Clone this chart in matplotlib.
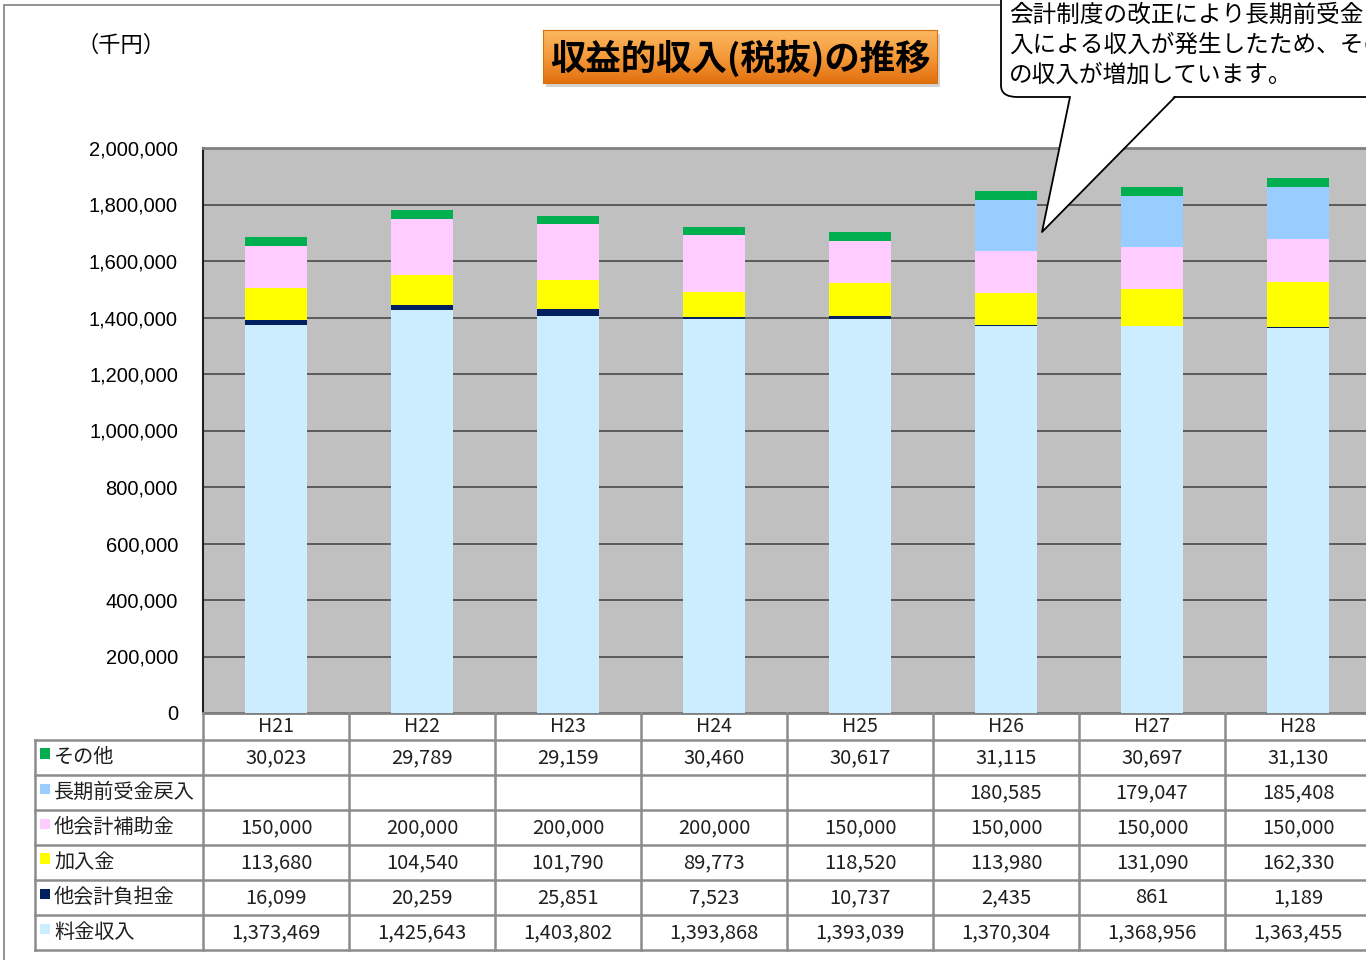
import numpy as np
import matplotlib
matplotlib.use("Agg")
import matplotlib.pyplot as plt
from matplotlib.patches import Rectangle, FancyBboxPatch, Polygon
from matplotlib.lines import Line2D
from matplotlib.colors import LinearSegmentedColormap

plt.rcParams['font.family'] = ['Noto Sans CJK JP', 'DejaVu Sans']

years = ['H21', 'H22', 'H23', 'H24', 'H25', 'H26', 'H27', 'H28']
# stack order bottom -> top
ryokin = [1373469, 1425643, 1403802, 1393868, 1393039, 1370304, 1368956, 1363455]
futan = [16099, 20259, 25851, 7523, 10737, 2435, 861, 1189]
kanyu = [113680, 104540, 101790, 89773, 118520, 113980, 131090, 162330]
hojo = [150000, 200000, 200000, 200000, 150000, 150000, 150000, 150000]
choki = [None, None, None, None, None, 180585, 179047, 185408]
sonota = [30023, 29789, 29159, 30460, 30617, 31115, 30697, 31130]

series_names = ['料金収入', '他会計負担金', '加入金', '他会計補助金', '長期前受金戻入', 'その他']
series_vals = [ryokin, futan, kanyu, hojo, choki, sonota]
colors = ['#CCECFF', '#002060', '#FFFF00', '#FFCCFF', '#99CCFF', '#00B050']

yticks = np.arange(0, 2000001, 200000)

W, H = 1366, 960
fig = plt.figure(figsize=(W / 100, H / 100), dpi=100)


def fx(x):
    return x / W


def fy(y):
    return 1 - y / H


# outer chart frame
fig.patches.append(Rectangle((fx(4), fy(1000)), fx(1400), fy(5) - fy(1000), transform=fig.transFigure,
                             fill=False, edgecolor='#808080', lw=1.2))

# plot area
left, top, bottom = 203, 148, 713
colw = 146
right = left + colw * len(years)
ax = fig.add_axes([fx(left), fy(bottom), fx(right - left), fy(top) - fy(bottom)])
ax.set_facecolor('#C0C0C0')
x = np.arange(len(years))
base = np.zeros(len(years))
for name, vals, c in zip(series_names, series_vals, colors):
    v = np.array([0 if a is None else a for a in vals], dtype=float)
    ax.bar(x, v, 0.42, bottom=base, color=c, zorder=3, label=name)
    base += v
ax.set_xlim(-0.5, len(years) - 0.5)
ax.set_ylim(0, 2000000)
ax.set_yticks(yticks)
ax.set_yticklabels([f'{t:,}' for t in yticks], family=['Liberation Sans', 'DejaVu Sans'], fontsize=14.5)
ax.tick_params(axis='y', length=0, pad=18)
ax.set_xticks([])
ax.grid(axis='y', color='#404040', lw=1.1, zorder=1)
for s in ['right', 'top']:
    ax.spines[s].set_color('#808080')
ax.spines['top'].set_linewidth(2)
ax.spines['left'].set_color('#202020')
ax.spines['left'].set_linewidth(1.5)
ax.spines['bottom'].set_color('#808080')
ax.spines['bottom'].set_linewidth(2)

# data table
lc = '#8C8C8C'
row_h = 35
hdr_bot = 740
tbl_left = 35
rows = list(zip(series_names, series_vals, colors))[::-1]  # その他 first
table_bot = hdr_bot + row_h * len(rows)


def hline(y, x0, x1):
    fig.add_artist(Line2D([fx(x0), fx(x1)], [fy(y), fy(y)], color=lc, lw=1.8))


def vline(xp, y0, y1):
    fig.add_artist(Line2D([fx(xp), fx(xp)], [fy(y0), fy(y1)], color=lc, lw=1.8))


for i in range(len(years) + 1):
    vline(left + i * colw, bottom, table_bot)
vline(tbl_left, hdr_bot, table_bot)
hline(hdr_bot, tbl_left, right)
for r in range(1, len(rows) + 1):
    hline(hdr_bot + r * row_h, tbl_left, right)

for i, yr in enumerate(years):
    fig.text(fx(left + colw * (i + 0.5)), fy(727), yr, ha='center', va='center', fontsize=14, color='#202020')

for r, (name, vals, c) in enumerate(rows):
    yc = hdr_bot + row_h * (r + 0.5)
    fig.patches.append(Rectangle((fx(40), fy(yc + 1)), fx(10), fy(yc - 9) - fy(yc + 1),
                                 transform=fig.transFigure, facecolor=c, edgecolor='none'))
    fig.text(fx(54), fy(yc), name, ha='left', va='center', fontsize=14.5, color='#202020')
    for i, v in enumerate(vals):
        if v is None:
            continue
        fig.text(fx(left + colw * (i + 0.5)), fy(yc), f'{v:,}', ha='center', va='center',
                 fontsize=14.5, color='#202020')

# unit label
fig.text(fx(121), fy(45), '（千円）', ha='center', va='center', fontsize=16)

# title box with gradient
tx0, tx1, ty0, ty1 = 543, 937, 30, 83
shadow = Rectangle((fx(tx0 + 3), fy(ty1 + 4)), fx(tx1 - tx0), fy(ty0) - fy(ty1),
                   transform=fig.transFigure, facecolor='#B8B8B8', edgecolor='none', alpha=0.6, zorder=0)
fig.patches.append(shadow)
tax = fig.add_axes([fx(tx0), fy(ty1), fx(tx1 - tx0), fy(ty0) - fy(ty1)])
tax.set_zorder(10)
grad = np.linspace(0, 1, 100).reshape(-1, 1)
cmap = LinearSegmentedColormap.from_list('org', ['#FBB860', '#F59A3A', '#E2700F'])
tax.imshow(grad, aspect='auto', cmap=cmap, extent=[0, 1, 0, 1], origin='upper')
tax.set_xticks([])
tax.set_yticks([])
for s in tax.spines.values():
    s.set_color('#D9700F')
tax.text(0.5, 0.47, '収益的収入(税抜)の推移', ha='center', va='center', fontsize=25.5,
         fontweight='bold', color='black', transform=tax.transAxes)

# callout
bx0, by0, bx1, by1 = 1001, -10, 1420, 97
fig.patches.append(FancyBboxPatch((fx(bx0), fy(by1)), fx(bx1 - bx0), fy(by0) - fy(by1),
                                  boxstyle='round,pad=0,rounding_size=0.012', transform=fig.transFigure,
                                  facecolor='white', edgecolor='black', lw=1.3, zorder=5))
ptr = [(fx(1070), fy(by1 - 2)), (fx(1042), fy(232)), (fx(1175), fy(by1 - 2))]
fig.patches.append(Polygon(ptr, closed=True, transform=fig.transFigure, facecolor='white',
                           edgecolor='none', zorder=6))
fig.add_artist(Line2D([fx(1070), fx(1042), fx(1175)], [fy(by1), fy(232), fy(by1)], color='black', lw=1.3,
                      zorder=7))
# only the part of the note that is visible in the chart window
note = ['会計制度の改正により長期前受金', '入による収入が発生したため、その', 'の収入が増加しています。']
for k, line in enumerate(note):
    fig.text(fx(1009), fy(15 + 30 * k), line, ha='left', va='center', fontsize=17, zorder=8)

fig.savefig('out.png', dpi=100)
